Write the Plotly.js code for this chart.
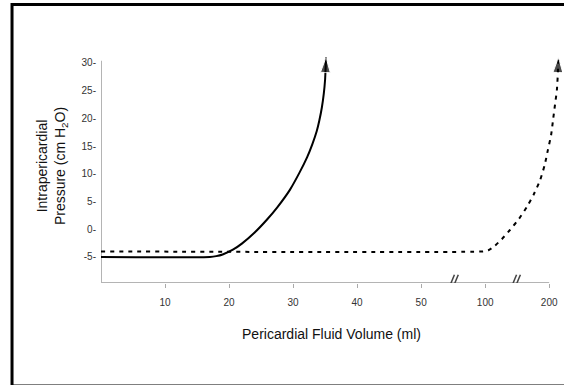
<!DOCTYPE html>
<html>
<head>
<meta charset="utf-8">
<script src="https://cdn.plot.ly/plotly-3.0.1.min.js"></script>
<style>
html,body{margin:0;padding:0;background:#fff;}
#chart{width:564px;height:385px;}
</style>
</head>
<body>
<div id="chart"></div>
<script>
// x positions on a broken axis: 0-50 ml linear, then 100 ml at 60, 200 ml at 70
const tickVals = [10, 20, 30, 40, 50, 60, 70];
const tickText = ["10", "20", "30", "40", "50", "100", "200"];
const yTickVals = [-5, 0, 5, 10, 15, 20, 25, 30];
const yTickText = ["-5-", "0-", "5-", "10-", "15-", "20-", "25-", "30-"];

// Solid curve (rapid accumulation)
const solidX = [0, 17, 18, 19, 20.6, 22, 24, 25.9, 27.5, 29.5, 31, 32.2, 33, 33.7, 34.1, 34.5, 34.8, 35.0, 35.15];
const solidY = [-5, -5, -4.85, -4.55, -3.7, -2.6, -0.6, 1.7, 3.9, 7.1, 10.2, 13.0, 15.3, 17.7, 19.6, 22, 24.5, 27, 31.0];

// Dashed curve (slow accumulation)
const dashX = [0, 59.7, 60.5, 61.3, 62.6, 63.9, 65.3, 66.5, 67.6, 68.6, 69.3, 69.8, 70.3, 70.6, 70.9, 71.2, 71.35, 71.45];
const dashY = [-4, -4, -3.8, -3.2, -1.8, -0.1, 1.9, 4.0, 6.3, 8.9, 11.6, 14.3, 17.0, 19.7, 22.4, 25.1, 28.0, 31.0];

const Y0 = -9.7, Y1 = 32.5;

function arrowSizes(n){ const s = new Array(n).fill(0); s[n-1] = 16; return s; }

const traces = [
  {x: solidX, y: solidY, mode: 'lines+markers', line: {color: '#000', width: 2, shape: 'spline', smoothing: 0.5},
   marker: {symbol: 'arrow', angleref: 'previous', size: arrowSizes(solidX.length), color: '#000'},
   hoverinfo: 'skip', showlegend: false},
  {x: dashX, y: dashY, mode: 'lines+markers', line: {color: '#000', width: 2, dash: '4px,5px', shape: 'spline', smoothing: 0.5},
   marker: {symbol: 'arrow', angleref: 'previous', size: arrowSizes(dashX.length), color: '#000'},
   hoverinfo: 'skip', showlegend: false}
];

const gray = '#b4b4b4';
const brk = {color: '#444', width: 1.5};
const shapes = [
  // axis lines
  {type: 'line', xref: 'x', yref: 'y', x0: 0, x1: 70, y0: Y0, y1: Y0, line: {color: gray, width: 2}, layer: 'below'},
  {type: 'line', xref: 'x', yref: 'y', x0: 0, x1: 0, y0: Y0, y1: 30.4, line: {color: gray, width: 2}, layer: 'below'},
  // axis break marks
  {type: 'line', xref: 'x', yref: 'y', x0: 54.1, x1: 55.2, y0: Y0 - 1.6, y1: Y0 + 1.5, line: brk},
  {type: 'line', xref: 'x', yref: 'y', x0: 54.7, x1: 55.8, y0: Y0 - 1.6, y1: Y0 + 1.5, line: brk},
  {type: 'line', xref: 'x', yref: 'y', x0: 63.8, x1: 64.9, y0: Y0 - 1.6, y1: Y0 + 1.5, line: brk},
  {type: 'line', xref: 'x', yref: 'y', x0: 64.4, x1: 65.5, y0: Y0 - 1.6, y1: Y0 + 1.5, line: brk},
  // outer frame
  {type: 'rect', xref: 'paper', yref: 'paper', x0: -0.193, x1: 1.3, y0: -0.44, y1: 1.19, line: {color: '#000', width: 3}, fillcolor: 'rgba(0,0,0,0)'}
];

const layout = {
  width: 564, height: 385,
  margin: {l: 101, r: 2, t: 49, b: 102},
  paper_bgcolor: '#fff', plot_bgcolor: '#fff',
  font: {family: 'Liberation Sans, Arial, sans-serif', color: '#222'},
  xaxis: {
    range: [0, 72], showgrid: false, zeroline: false, showline: false,
    tickmode: 'array', tickvals: tickVals, ticktext: tickText,
    ticks: 'outside', ticklen: 4, tickwidth: 1, tickcolor: '#aaa',
    ticklabelstandoff: 6,
    tickfont: {size: 10, color: '#333'},
    title: {text: 'Pericardial Fluid Volume (ml)', font: {size: 14, color: '#111'}, standoff: 22}
  },
  yaxis: {
    range: [Y0, Y1], showgrid: false, zeroline: false, showline: false,
    tickmode: 'array', tickvals: yTickVals, ticktext: yTickText,
    ticks: '', ticklabelstandoff: 4,
    tickfont: {size: 10, color: '#333'},
    title: {text: 'Intrapericardial<br>Pressure (cm H<sub>2</sub>O)', font: {size: 14, color: '#111'}, standoff: 12}
  },
  shapes: shapes
};

Plotly.newPlot('chart', traces, layout, {displayModeBar: false, staticPlot: true});
</script>
</body>
</html>
